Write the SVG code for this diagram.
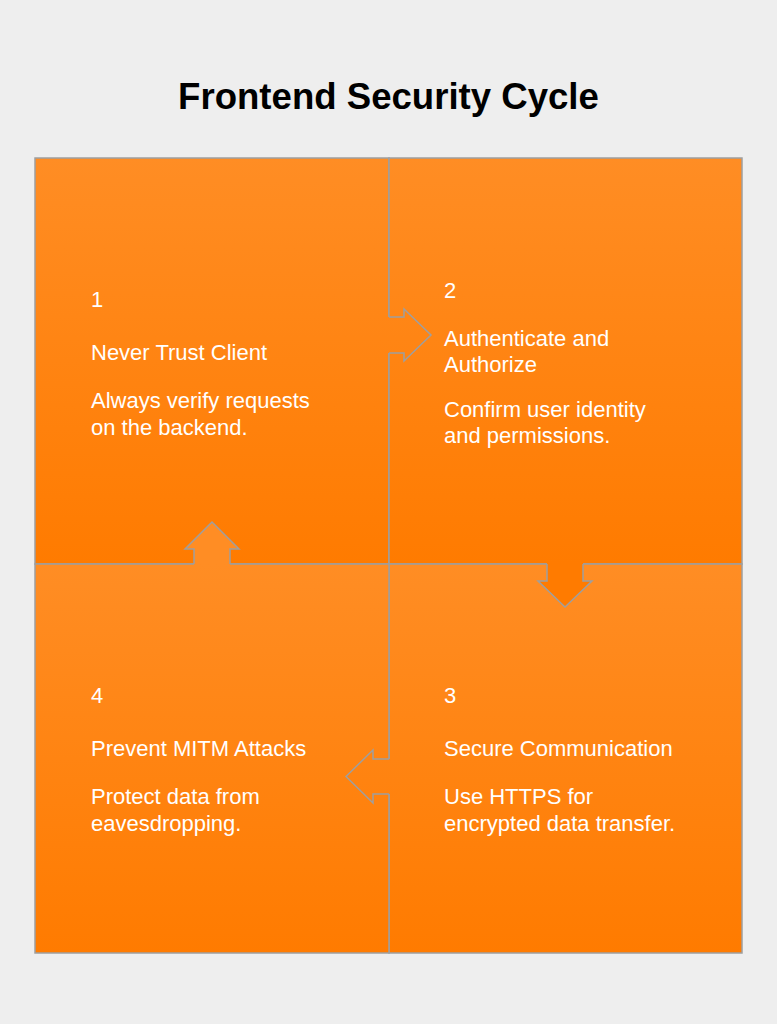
<svg xmlns="http://www.w3.org/2000/svg" width="777" height="1024" viewBox="0 0 777 1024">
  <style>
    .q { stroke: #9f9f9f; stroke-width: 1.5; }
    .edge { fill: none; stroke: #9f9f9f; stroke-width: 1.5; stroke-linejoin: miter; }
    .t { font-family: "Liberation Sans", Arial, Helvetica, sans-serif; font-size: 22px; fill: #ffffff; }
    .title { font-family: "Liberation Sans", Arial, Helvetica, sans-serif; font-size: 36.6px; font-weight: bold; fill: #000000; }
  </style>
  <defs>
    <linearGradient id="gTop" gradientUnits="userSpaceOnUse" x1="0" y1="158" x2="0" y2="564">
      <stop offset="0" stop-color="#ff8d24"/>
      <stop offset="1" stop-color="#ff7b00"/>
    </linearGradient>
    <linearGradient id="gBot" gradientUnits="userSpaceOnUse" x1="0" y1="564" x2="0" y2="953">
      <stop offset="0" stop-color="#ff8d24"/>
      <stop offset="1" stop-color="#ff7b00"/>
    </linearGradient>
  </defs>
  <rect x="0" y="0" width="777" height="1024" fill="#eeeeee"/>
  <text class="title" x="388.5" y="109" text-anchor="middle">Frontend Security Cycle</text>

  <g id="node-1-rect"><rect class="q" x="35" y="158" width="354" height="406" fill="url(#gTop)"/></g>
  <g id="node-2-rect"><rect class="q" x="389" y="158" width="353" height="406" fill="url(#gTop)"/></g>
  <g id="node-3-rect"><rect class="q" x="389" y="564" width="353" height="389" fill="url(#gBot)"/></g>
  <g id="node-4-rect"><rect class="q" x="35" y="564" width="354" height="389" fill="url(#gBot)"/></g>

  <g id="connectors">
    <g id="arrow-1-2">
      <polygon points="385,317 404,317 404,309 431,335 404,361 404,353 385,353" fill="url(#gTop)"/>
      <polyline class="edge" points="389,317 404,317 404,309 431,335 404,361 404,353 389,353"/>
    </g>
    <g id="arrow-2-3">
      <polygon points="547,560 547,581 538,581 565,607 592,581 583,581 583,560" fill="url(#gTop)"/>
      <polyline class="edge" points="547,564 547,581 538,581 565,607 592,581 583,581 583,564"/>
    </g>
    <g id="arrow-3-4">
      <polygon points="393,759 373,759 373,750 346,776.5 373,803 373,794 393,794" fill="url(#gBot)"/>
      <polyline class="edge" points="389,759 373,759 373,750 346,776.5 373,803 373,794 389,794"/>
    </g>
    <g id="arrow-4-1">
      <polygon points="194,568 194,549 185,549 212,522 239,549 230,549 230,568" fill="url(#gBot)"/>
      <polyline class="edge" points="194,564 194,549 185,549 212,522 239,549 230,549 230,564"/>
    </g>
  </g>

  <g id="node-1">
    <text class="t" x="91" y="307">1</text>
    <text class="t" x="91" y="360">Never Trust Client</text>
    <text class="t" x="91" y="408">Always verify requests</text>
    <text class="t" x="91" y="435">on the backend.</text>
  </g>
  <g id="node-2">
    <text class="t" x="444" y="298">2</text>
    <text class="t" x="444" y="346">Authenticate and</text>
    <text class="t" x="444" y="372">Authorize</text>
    <text class="t" x="444" y="417">Confirm user identity</text>
    <text class="t" x="444" y="443">and permissions.</text>
  </g>
  <g id="node-3">
    <text class="t" x="444" y="703">3</text>
    <text class="t" x="444" y="756">Secure Communication</text>
    <text class="t" x="444" y="804">Use HTTPS for</text>
    <text class="t" x="444" y="831">encrypted data transfer.</text>
  </g>
  <g id="node-4">
    <text class="t" x="91" y="703">4</text>
    <text class="t" x="91" y="756">Prevent MITM Attacks</text>
    <text class="t" x="91" y="804">Protect data from</text>
    <text class="t" x="91" y="831">eavesdropping.</text>
  </g>
</svg>
